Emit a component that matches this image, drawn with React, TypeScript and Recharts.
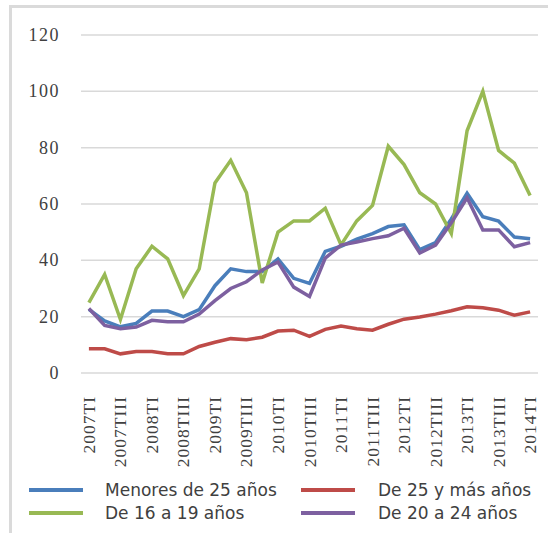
import React from 'react';
import { LineChart, Line, XAxis, YAxis, CartesianGrid, Legend } from 'recharts';

const quarters = [
  '2007TI', '2007TII', '2007TIII', '2007TIV',
  '2008TI', '2008TII', '2008TIII', '2008TIV',
  '2009TI', '2009TII', '2009TIII', '2009TIV',
  '2010TI', '2010TII', '2010TIII', '2010TIV',
  '2011TI', '2011TII', '2011TIII', '2011TIV',
  '2012TI', '2012TII', '2012TIII', '2012TIV',
  '2013TI', '2013TII', '2013TIII', '2013TIV',
  '2014TI',
];

const menores25 = [22.6, 18.5, 16.4, 17.6, 22, 22, 20, 22.5, 31, 37, 36, 36, 40.5, 33.6, 31.8, 43.2, 45, 47.5, 49.5, 52, 52.6, 43.8, 46.3, 54.7, 63.8, 55.5, 53.9, 48.3, 47.7];
const de25ymas = [8.6, 8.6, 6.8, 7.6, 7.6, 6.8, 6.8, 9.4, 10.9, 12.2, 11.8, 12.7, 14.9, 15.2, 13, 15.5, 16.7, 15.7, 15.2, 17.3, 19.1, 19.9, 20.9, 22.1, 23.5, 23.2, 22.3, 20.5, 21.7];
const de16a19 = [25, 35, 19, 37, 45, 40.5, 27.5, 37, 67.5, 75.5, 64, 32, 50, 54, 54, 58.5, 45.5, 54, 59.5, 80.5, 74, 64, 60, 49.5, 86, 100, 79, 74.5, 63];
const de20a24 = [22.9, 16.9, 15.7, 16.3, 18.7, 18.2, 18.2, 20.9, 25.7, 30, 32.4, 36.6, 39.4, 30.5, 27.2, 40.8, 45.4, 46.5, 47.7, 48.7, 51.4, 42.6, 45.4, 53.3, 62.2, 50.8, 50.8, 44.8, 46.3];

const yTicks = [0, 20, 40, 60, 80, 100, 120];

const seriesNames = ['Menores de 25 años', 'De 25 y más años', 'De 16 a 19 años', 'De 20 a 24 años'];
const seriesColors = ['#4A7EBB', '#BE4B48', '#98B954', '#7D60A0'];

const data = quarters.map((q, i) => ({
  q,
  s0: menores25[i],
  s1: de25ymas[i],
  s2: de16a19[i],
  s3: de20a24[i],
}));

const TEXT = '#404040';
const SERIF = '"Liberation Serif", serif';
const SANS = '"DejaVu Sans", sans-serif';

const XTick = (props: any) => {
  const { x, y, payload } = props;
  return (
    <text
      x={0}
      y={0}
      transform={`translate(${x},${y}) rotate(-90)`}
      textAnchor="end"
      dominantBaseline="central"
      fill={TEXT}
      fontFamily={SERIF}
      fontSize={17.5}
      letterSpacing={1}
    >
      {payload.value}
    </text>
  );
};

const YTick = (props: any) => {
  const { x, y, payload } = props;
  return (
    <text
      x={x}
      y={y}
      textAnchor="end"
      dominantBaseline="central"
      fill={TEXT}
      fontFamily={SERIF}
      fontSize={18}
      letterSpacing={1.5}
    >
      {payload.value}
    </text>
  );
};

const legendPos = [
  { lx: 29, tx: 105, y: 12 },
  { lx: 301, tx: 378, y: 12 },
  { lx: 29, tx: 105, y: 35 },
  { lx: 301, tx: 378, y: 35 },
];

const renderLegend = () => (
  <div style={{ position: 'relative', width: 548, height: 50 }}>
    {seriesNames.map((name, i) => (
      <React.Fragment key={name}>
        <div
          style={{
            position: 'absolute',
            left: legendPos[i].lx,
            top: legendPos[i].y - 2,
            width: 54,
            height: 3.5,
            background: seriesColors[i],
          }}
        />
        <div
          style={{
            position: 'absolute',
            left: legendPos[i].tx,
            top: legendPos[i].y - 11,
            height: 22,
            lineHeight: '22px',
            fontFamily: SANS,
            fontSize: 17,
            color: TEXT,
            whiteSpace: 'nowrap',
          }}
        >
          {name}
        </div>
      </React.Fragment>
    ))}
  </div>
);

export default function App() {
  return (
    <div style={{ position: 'absolute', left: 0, top: 0, width: 548, height: 533, background: '#fff' }}>
      <div
        style={{
          position: 'absolute',
          left: 9,
          top: 5,
          width: 548,
          height: 540,
          borderLeft: '3px solid #dadada',
          borderTop: '3px solid #dadada',
        }}
      />
      <div style={{ position: 'absolute', left: 0, top: 0 }}>
        <LineChart
          width={548}
          height={533}
          data={data}
          margin={{ top: 35, right: 10, left: 0, bottom: 15 }}
        >
          <CartesianGrid vertical={false} stroke="#d9d9d9" strokeWidth={1.5} />
          <XAxis
            dataKey="q"
            interval={1}
            tickLine={false}
            axisLine={false}
            tickSize={0}
            tickMargin={23}
            height={95}
            padding={{ left: 7.9, right: 7.9 }}
            tick={<XTick />}
          />
          <YAxis
            domain={[0, 120]}
            ticks={yTicks}
            width={81}
            tickLine={false}
            axisLine={false}
            tickSize={0}
            tickMargin={21}
            tick={<YTick />}
          />
          <Legend
            verticalAlign="bottom"
            content={renderLegend}
            wrapperStyle={{ position: 'absolute', left: 0, top: 478, bottom: 'auto', width: 548, height: 50 }}
          />
          <Line dataKey="s0" name={seriesNames[0]} stroke={seriesColors[0]} strokeWidth={3.5} dot={false} isAnimationActive={false} />
          <Line dataKey="s1" name={seriesNames[1]} stroke={seriesColors[1]} strokeWidth={3.5} dot={false} isAnimationActive={false} />
          <Line dataKey="s2" name={seriesNames[2]} stroke={seriesColors[2]} strokeWidth={3.5} dot={false} isAnimationActive={false} />
          <Line dataKey="s3" name={seriesNames[3]} stroke={seriesColors[3]} strokeWidth={3.5} dot={false} isAnimationActive={false} />
        </LineChart>
      </div>
    </div>
  );
}
